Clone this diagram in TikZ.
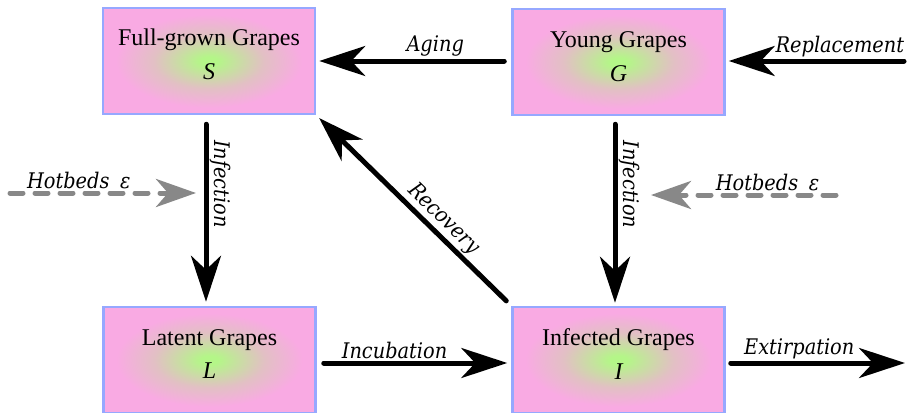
\documentclass[tikz,border=0pt]{standalone}
\usepackage{fontspec}
\setmainfont{Liberation Serif}
\newfontfamily\labfont{DejaVu Serif Condensed}
\usetikzlibrary{arrows.meta}
\definecolor{cgreen}{RGB}{180,246,136}
\definecolor{cmid}{RGB}{226,192,196}
\definecolor{cpink}{RGB}{249,170,227}
\definecolor{cborder}{RGB}{150,168,255}
\definecolor{cgray}{RGB}{136,136,136}
\pgfdeclareradialshading{grapeshade}{\pgfpoint{0bp}{0bp}}{color(0bp)=(cgreen); color(2bp)=(cgreen); color(13bp)=(cmid); color(22bp)=(cpink); color(50bp)=(cpink)}
\tikzset{
  grapebox/.style={draw=cborder, line width=2.5pt, shading=grapeshade,
    minimum width=212pt, minimum height=106pt, inner sep=0pt},
  boxname/.style={font=\fontsize{24}{28}\selectfont, inner sep=0pt},
  boxsym/.style={font=\fontsize{24}{28}\selectfont\itshape, inner sep=0pt},
  flow/.style={line width=5pt, line cap=round, -{Stealth[length=46pt,width=30pt,inset=14pt]}},
  hot/.style={line width=5pt, cgray, line cap=round, dash pattern=on 13pt off 12pt,
    -{Stealth[length=40pt,width=28pt,inset=12pt]}},
  elab/.style={font=\labfont\itshape\fontsize{21.5}{24}\selectfont, inner sep=2pt},
}
\begin{document}
\begin{tikzpicture}[x=1pt,y=-1pt]
\useasboundingbox (0,0) rectangle (909,412);
% boxes
\node[grapebox] (S) at (209,61) {};
\node[grapebox] (G) at (618.5,62) {};
\node[grapebox] (L) at (209.5,360) {};
\node[grapebox] (I) at (618.5,360) {};
% box texts
\node[boxname] (Sn) at ([yshift=21pt]S.center) {Full-grown Grapes};
\node[boxsym]  (Ss) at ([yshift=-11pt]S.center) {S};
\node[boxname] (Gn) at ([yshift=20pt]G.center) {Young Grapes};
\node[boxsym]  (Gs) at ([yshift=-12pt]G.center) {G};
\node[boxname] (Ln) at ([yshift=20pt]L.center) {Latent Grapes};
\node[boxsym]  (Ls) at ([yshift=-11pt]L.center) {L};
\node[boxname] (In) at ([yshift=20pt]I.center) {Infected Grapes};
\node[boxsym]  (Is) at ([yshift=-12pt]I.center) {I};
% free ends
\coordinate (rep) at (904,61);
\coordinate (ext) at (905,363);
\coordinate (hl0) at (10,193);
\coordinate (hl1) at (196,193);
\coordinate (hr0) at (836,195);
\coordinate (hr1) at (651,195);
% connectors
\draw[flow, shorten <=7pt, shorten >=3pt] (G.west |- 0,61) -- node[elab, pos=0.39, above] (agl) {Aging} (S.east |- 0,61);
\draw[flow, shorten >=3pt] (rep) -- node[elab, pos=0.36, above] (rpl) {Replacement} (G.east |- 0,61);
\draw[flow, shorten <=9pt, shorten >=4pt] (S.south -| 206,0) -- node[elab, pos=0.36, rotate=-90, anchor=south] (sil) {Infection} (L.north -| 206,0);
\draw[flow, shorten <=8pt, shorten >=3pt] (G.south -| 615,0) -- node[elab, pos=0.36, rotate=-90, anchor=south] (gil) {Infection} (I.north -| 615,0);
\draw[flow, shorten <=7pt, shorten >=4pt] (I.north west) -- node[elab, pos=0.4, sloped, above] (rcl) {Recovery} (S.south east);
\draw[flow, shorten <=7pt, shorten >=4pt] (L.east |- 0,363) -- node[elab, pos=0.4, above] (icl) {Incubation} (I.west |- 0,363);
\draw[flow, shorten <=5pt] (I.east |- 0,363) -- node[elab, pos=0.41, above] (exl) {Extirpation} (ext);
\draw[hot] (hl0) -- node[elab, pos=0.37, above, text=black] (hll) {Hotbeds\hspace{0.5em}ε} (hl1);
\draw[hot] (hr0) -- node[elab, pos=0.37, above, text=black] (hrl) {Hotbeds\hspace{0.5em}ε} (hr1);
\end{tikzpicture}
\end{document}
